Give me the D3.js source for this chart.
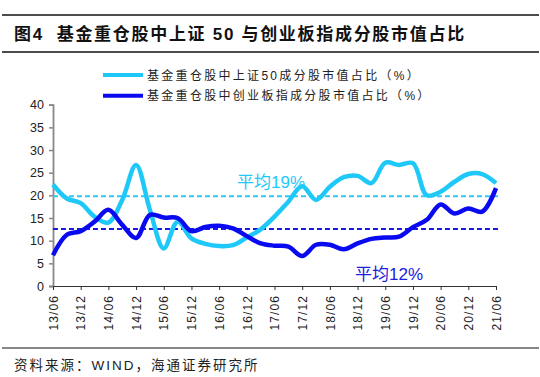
<!DOCTYPE html>
<html>
<head>
<meta charset="utf-8">
<script src="https://cdn.jsdelivr.net/npm/d3@7"></script>
<style>
  body { margin: 0; background: #fff; }
  svg { display: block; font-family: "Liberation Sans", "Noto Sans CJK SC", sans-serif; }
</style>
</head>
<body>
<div id="chart"></div>
<script>
  // quarterly report dates (yy/mm)
  const quarters = [
    '13/06', '13/09', '13/12', '14/03', '14/06', '14/09', '14/12', '15/03', '15/06', '15/09', '15/12',
    '16/03', '16/06', '16/09', '16/12', '17/03', '17/06', '17/09', '17/12', '18/03', '18/06', '18/09',
    '18/12', '19/03', '19/06', '19/09', '19/12', '20/03', '20/06', '20/09', '20/12', '21/03', '21/06'
  ];
  const tickLabels = quarters.filter((q, i) => i % 2 === 0);
  const yTicks = [0, 5, 10, 15, 20, 25, 30, 35, 40];

  // 上证50 share (%)
  const sz50Share = [22.4, 19.3, 18.3, 15.3, 14.0, 19.0, 26.7, 16.8, 8.3, 14.2, 10.5,
    9.3, 8.8, 9.0, 10.7, 12.5, 15.3, 18.6, 22.0, 19.0, 21.9, 24.0,
    24.3, 22.7, 27.2, 26.7, 27.1, 20.0, 20.8, 23.0, 24.7, 24.7, 22.7];
  // 创业板指 share (%)
  const cybShare = [6.8, 11.3, 12.1, 14.2, 16.8, 13.5, 10.6, 15.7, 15.1, 15.0, 12.1,
    13.0, 13.3, 12.7, 11.0, 9.4, 8.9, 8.7, 6.6, 9.1, 9.1, 8.1,
    9.4, 10.4, 10.7, 10.9, 13.0, 14.6, 18.0, 16.0, 17.1, 16.4, 21.6];
  const sz50Avg = 19.8;
  const cybAvg = 12.6;

  const seriesNames = ['基金重仓股中上证50成分股市值占比（%）', '基金重仓股中创业板指成分股市值占比（%）'];
  const lightBlue = '#1ec8f8';
  const darkBlue = '#0a0af0';

  const svg = d3.select('#chart').append('svg')
    .attr('width', 540)
    .attr('height', 377);

  // title block with rules
  svg.append('line').attr('x1', 2).attr('x2', 539).attr('y1', 15).attr('y2', 15)
    .attr('stroke', '#111').attr('stroke-width', 1.5);
  svg.append('line').attr('x1', 2).attr('x2', 539).attr('y1', 52).attr('y2', 52)
    .attr('stroke', '#111').attr('stroke-width', 1.5);
  svg.append('text')
    .attr('x', 14).attr('y', 40)
    .style('font-size', '17px').style('font-weight', 'bold')
    .style('letter-spacing', '1.7px')
    .attr('fill', '#111')
    .attr('xml:space', 'preserve')
    .text('图4  基金重仓股中上证 50 与创业板指成分股市值占比');

  // scales
  const x = d3.scalePoint().domain(quarters).range([53, 496]);
  const y = d3.scaleLinear().domain([0, 40]).range([286, 104.7]);

  // y axis
  const yAxis = svg.append('g')
    .attr('transform', 'translate(53,0)')
    .call(d3.axisLeft(y).tickValues(yTicks).tickSize(4).tickPadding(5));
  yAxis.select('.domain').attr('stroke', '#888').attr('stroke-width', 1.8);
  yAxis.selectAll('.tick line').attr('stroke', '#888').attr('stroke-width', 1.5);
  yAxis.selectAll('text')
    .style('font-size', '12.5px')
    .style('font-family', '"Liberation Sans", sans-serif')
    .attr('fill', '#222');

  // x axis
  const xAxis = svg.append('g')
    .attr('transform', 'translate(0,286)')
    .call(d3.axisBottom(x).tickValues(tickLabels).tickSize(4).tickSizeOuter(0));
  xAxis.select('.domain').attr('stroke', '#333').attr('stroke-width', 1.2);
  xAxis.selectAll('.tick line').attr('stroke', '#333');
  xAxis.selectAll('text')
    .attr('transform', 'rotate(-90)')
    .attr('x', -9).attr('y', 0).attr('dy', '0.35em')
    .style('text-anchor', 'end')
    .style('font-size', '12px')
    .style('letter-spacing', '1.1px')
    .style('font-family', '"Liberation Sans", sans-serif')
    .attr('fill', '#222');

  // average lines
  const avgLines = [
    { v: sz50Avg, color: '#2fc8f5' },
    { v: cybAvg, color: '#1a1ae0' }
  ];
  svg.selectAll('.avg')
    .data(avgLines)
    .enter()
    .append('line')
    .attr('class', 'avg')
    .attr('x1', x(quarters[0]))
    .attr('x2', x(quarters[quarters.length - 1]) + 2)
    .attr('y1', d => y(d.v))
    .attr('y2', d => y(d.v))
    .attr('stroke', d => d.color)
    .attr('stroke-width', 2)
    .attr('stroke-dasharray', '5,3');

  // series lines
  const line = d3.line()
    .x((d, i) => x(quarters[i]))
    .y(d => y(d))
    .curve(d3.curveCatmullRom.alpha(0.5));

  svg.append('path')
    .datum(sz50Share)
    .attr('d', line)
    .attr('fill', 'none')
    .attr('stroke', lightBlue)
    .attr('stroke-width', 4.5)
    .attr('stroke-linejoin', 'round');

  svg.append('path')
    .datum(cybShare)
    .attr('d', line)
    .attr('fill', 'none')
    .attr('stroke', darkBlue)
    .attr('stroke-width', 4.5)
    .attr('stroke-linejoin', 'round');

  // average labels
  svg.append('text')
    .attr('x', 237).attr('y', 188)
    .style('font-size', '17px')
    .attr('fill', lightBlue)
    .text('平均19%');
  svg.append('text')
    .attr('x', 355).attr('y', 280)
    .style('font-size', '17px')
    .attr('fill', '#2020e0')
    .text('平均12%');

  // legend
  const legend = svg.append('g');
  [lightBlue, darkBlue].forEach((c, i) => {
    const ly = 75 + i * 20.7;
    legend.append('line')
      .attr('x1', 103).attr('x2', 143)
      .attr('y1', ly).attr('y2', ly)
      .attr('stroke', c).attr('stroke-width', 4);
    legend.append('text')
      .attr('x', 147).attr('y', ly + 4.5)
      .style('font-size', '12px')
      .style('letter-spacing', '2.3px')
      .attr('fill', '#222')
      .text(seriesNames[i]);
  });

  // source
  svg.append('line').attr('x1', 2).attr('x2', 539).attr('y1', 348).attr('y2', 348)
    .attr('stroke', '#111').attr('stroke-width', 1.2);
  svg.append('text')
    .attr('x', 14).attr('y', 370)
    .style('font-size', '13.5px')
    .style('letter-spacing', '2px')
    .attr('fill', '#222')
    .text('资料来源：WIND，海通证券研究所');
</script>
</body>
</html>
